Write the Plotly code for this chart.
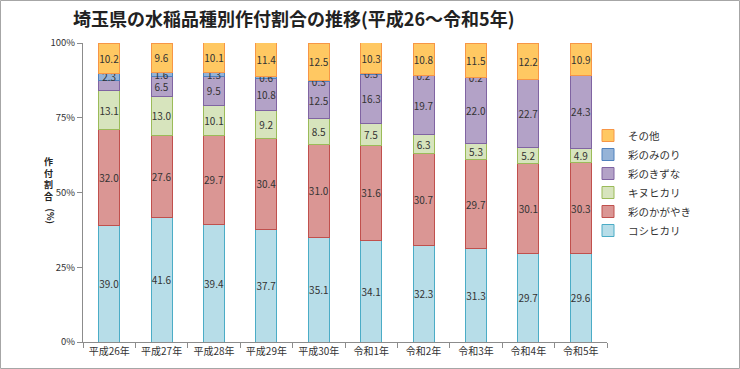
import plotly.graph_objects as go

# ---- data ----
years = ["平成26年", "平成27年", "平成28年", "平成29年", "平成30年",
         "令和1年", "令和2年", "令和3年", "令和4年", "令和5年"]
koshihikari = [39.0, 41.6, 39.4, 37.7, 35.1, 34.1, 32.3, 31.3, 29.7, 29.6]
sai_kagayaki = [32.0, 27.6, 29.7, 30.4, 31.0, 31.6, 30.7, 29.7, 30.1, 30.3]
kinuhikari = [13.1, 13.0, 10.1, 9.2, 8.5, 7.5, 6.3, 5.3, 5.2, 4.9]
sai_kizuna = [3.4, 6.5, 9.5, 10.8, 12.5, 16.3, 19.7, 22.0, 22.7, 24.3]
sai_minori = [2.3, 1.6, 1.3, 0.6, 0.3, 0.3, 0.2, 0.2, 0.0, 0.0]
sonota = [10.2, 9.6, 10.1, 11.4, 12.5, 10.3, 10.8, 11.5, 12.2, 10.9]
# labels not shown in the original (per series index)
hidden_labels = {"彩のきずな": [0]}
y_ticks = [0, 25, 50, 75, 100]
y_tick_text = [f"{v}%" for v in y_ticks]

series = [
    ("コシヒカリ", koshihikari, "#B7DDE8", "#4BACC6"),
    ("彩のかがやき", sai_kagayaki, "#DA9694", "#C0504D"),
    ("キヌヒカリ", kinuhikari, "#D7E4BD", "#9BBB59"),
    ("彩のきずな", sai_kizuna, "#B3A2C7", "#8064A2"),
    ("彩のみのり", sai_minori, "#95B3D7", "#4F81BD"),
    ("その他", sonota, "#FFC862", "#F79646"),
]

W, H = 740, 369
L, R, T, B = 83, 133, 43, 27
PW, PH = W - L - R, H - T - B

def px_x(px):
    return (px - L) / PW

def px_y(py):
    return (H - B - py) / PH

FONT = "Noto Sans CJK JP"

fig = go.Figure()
for name, vals, fill, line in series:
    hide = hidden_labels.get(name, [])
    labels = ["" if i in hide else f"{v:.1f}" for i, v in enumerate(vals)]
    fig.add_trace(go.Bar(
        name=name, x=years, y=vals, text=labels,
        textposition="inside", insidetextanchor="middle", textangle=0,
        textfont=dict(size=10, color="#333333", family=FONT),
        marker=dict(color=fill, line=dict(color=line, width=1)),
    ))

fig.update_layout(
    width=W, height=H,
    margin=dict(l=L, r=R, t=T, b=B, autoexpand=False),
    barmode="stack", bargap=0.6,
    plot_bgcolor="white", paper_bgcolor="white",
    uniformtext=dict(minsize=10, mode="show"),
    font=dict(family=FONT, color="#333333"),
    title=dict(text="<b>埼玉県の水稲品種別作付割合の推移(平成26～令和5年)</b>",
               x=73 / W, xref="container", xanchor="left",
               y=1 - 20 / H, yref="container", yanchor="middle",
               font=dict(size=18, color="#222222", family=FONT)),
    legend=dict(x=px_x(588), xanchor="left", y=px_y(183), yanchor="middle",
                traceorder="reversed", font=dict(size=10.5, family=FONT),
                itemwidth=30, tracegroupgap=0, bgcolor="rgba(0,0,0,0)"),
    xaxis=dict(showline=True, linecolor="#8C8C8C", ticks="outside",
               tickson="boundaries", ticklen=5, tickcolor="#8C8C8C",
               tickangle=0, automargin=False,
               tickfont=dict(size=10, color="#333333"), showgrid=False),
    yaxis=dict(range=[0, 100], tickvals=y_ticks, ticktext=y_tick_text,
               showline=True, linecolor="#8C8C8C", ticks="outside",
               ticklen=5, tickcolor="#8C8C8C", showgrid=False, zeroline=False,
               automargin=False,
               tickfont=dict(size=9.5, color="#333333")),
)

# vertical axis title (upright characters, then rotated "(%)")
fig.add_annotation(text="<b>作<br>付<br>割<br>合</b>", xref="paper", yref="paper",
                   x=px_x(42), y=px_y(179), showarrow=False,
                   font=dict(size=9, color="#222222", family=FONT))
fig.add_annotation(text="<b>(%)</b>", xref="paper", yref="paper",
                   x=px_x(42), y=px_y(216), showarrow=False, textangle=90,
                   font=dict(size=9, color="#222222", family=FONT))

# chart border
fig.add_shape(type="rect", xref="paper", yref="paper",
              x0=px_x(0.5), x1=px_x(W - 0.5), y0=px_y(H - 0.5), y1=px_y(0.5),
              line=dict(color="#A6A6A6", width=1), layer="above")

fig.write_html("out.html", config={"displayModeBar": False},
               post_script="document.body.style.margin='0';"
                           "document.body.style.overflow='hidden';")
